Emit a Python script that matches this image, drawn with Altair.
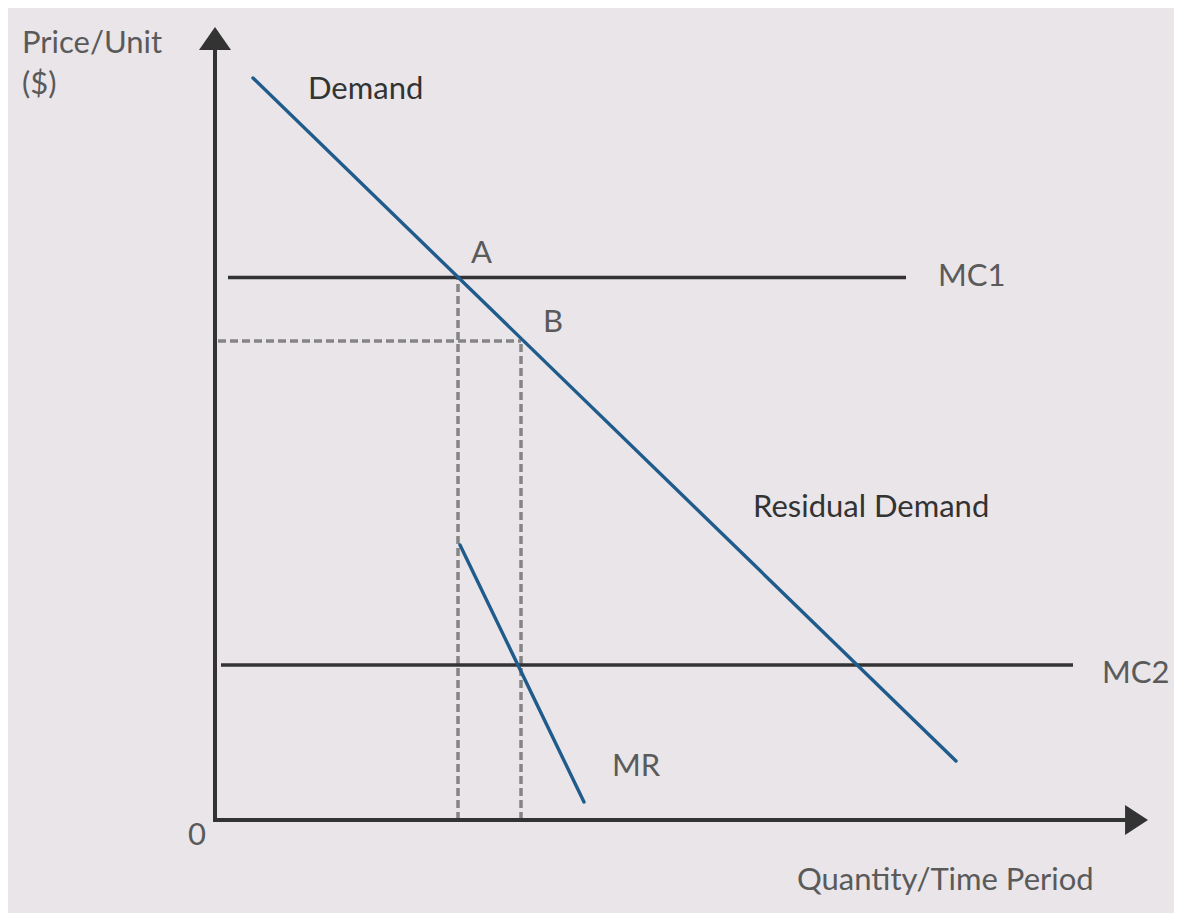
import altair as alt
import pandas as pd

# Economic diagram coordinates (quantity, price) in arbitrary units
# Axes
axis_x1 = [0.0, -0.2]
axis_y1 = [-0.2, 0.0]
axis_x2 = [0.0, 92.0]
axis_y2 = [77.0, 0.0]

# Arrow heads (tips)
arrow_q = [0.0, 93.3]
arrow_p = [79.3, 0.0]
arrow_shape = ["M0,0L1,1.44L-1,1.44Z", "M0,0L-1.53,-1L-1.53,1Z"]

# Blue curves: Demand, MR
blue_names = ["Demand", "MR"]
blue_q1 = [3.8, 24.5]
blue_p1 = [74.2, 27.5]
blue_q2 = [74.1, 36.9]
blue_p2 = [5.9, 1.8]

# Marginal cost lines
mc_names = ["MC1", "MC2"]
mc_q1 = [1.3, 0.6]
mc_q2 = [69.1, 85.8]
mc_p = [54.25, 15.5]

# Dashed guide lines
dash_q1 = [24.3, 30.6, 0.3]
dash_p1 = [0.0, 0.0, 47.9]
dash_q2 = [24.3, 30.6, 30.6]
dash_p2 = [54.25, 47.9, 47.9]

# Labels
dark_labels = ["Demand", "Residual Demand"]
dark_q = [9.3, 53.8]
dark_p = [72.1, 30.3]

gray_labels = ["Price/Unit", "($)", "A", "B", "MC1", "MC2", "MR", "0", "Quantity/Time Period"]
gray_q = [-19.3, -19.3, 25.6, 32.8, 72.3, 88.7, 39.7, -2.7, 58.2]
gray_p = [76.7, 72.6, 55.7, 48.8, 53.4, 13.7, 4.4, -2.5, -7.0]

W, H = 1166, 905
xs = alt.Scale(domain=[-20.7, 95.9], nice=False, zero=False)
ys = alt.Scale(domain=[-9.3, 81.2], nice=False, zero=False)

def X(f):
    return alt.X(f, type="quantitative", scale=xs, axis=None)

def Y(f):
    return alt.Y(f, type="quantitative", scale=ys, axis=None)

axes_df = pd.DataFrame({"x1": axis_x1, "y1": axis_y1, "x2": axis_x2, "y2": axis_y2})
axes = alt.Chart(axes_df).mark_rule(color="#333333", strokeWidth=4).encode(
    x=X("x1"), y=Y("y1"), x2="x2", y2="y2")

arrows_df = pd.DataFrame({"q": arrow_q, "p": arrow_p, "s": arrow_shape})
arrow_layers = []
for i in range(len(arrow_q)):
    arrow_layers.append(
        alt.Chart(arrows_df.iloc[[i]]).mark_point(
            shape=arrow_shape[i], filled=True, size=1024 if i == 0 else 900,
            color="#333333", opacity=1, strokeWidth=0
        ).encode(x=X("q"), y=Y("p"))
    )

dash_df = pd.DataFrame({"x1": dash_q1, "y1": dash_p1, "x2": dash_q2, "y2": dash_p2})
dashes = alt.Chart(dash_df).mark_rule(color="#858585", strokeWidth=3.5, strokeDash=[8, 4]).encode(
    x=X("x1"), y=Y("y1"), x2="x2", y2="y2")

mc_df = pd.DataFrame({"name": mc_names, "x1": mc_q1, "x2": mc_q2, "p": mc_p})
mcs = alt.Chart(mc_df).mark_rule(color="#333333", strokeWidth=3.5).encode(
    x=X("x1"), x2="x2", y=Y("p"))

blue_df = pd.DataFrame({"name": blue_names, "x1": blue_q1, "y1": blue_p1, "x2": blue_q2, "y2": blue_p2})
blues = alt.Chart(blue_df).mark_rule(color="#1f5b8b", strokeWidth=3.4, strokeCap="round").encode(
    x=X("x1"), y=Y("y1"), x2="x2", y2="y2")

dark_df = pd.DataFrame({"t": dark_labels, "q": dark_q, "p": dark_p})
dark_txt = alt.Chart(dark_df).mark_text(
    align="left", baseline="alphabetic", font="Lato", fontSize=31, color="#333333"
).encode(x=X("q"), y=Y("p"), text="t")

gray_df = pd.DataFrame({"t": gray_labels, "q": gray_q, "p": gray_p})
gray_txt = alt.Chart(gray_df).mark_text(
    align="left", baseline="alphabetic", font="Lato", fontSize=31, color="#5a5a5a"
).encode(x=X("q"), y=Y("p"), text="t")

chart = alt.layer(dashes, mcs, axes, *arrow_layers, blues, dark_txt, gray_txt).properties(
    width=W, height=H,
    autosize=alt.AutoSizeParams(type="fit", contains="padding"),
    padding=0,
    background="#e9e5e9",
).configure_view(strokeWidth=0)

chart.save("out.html", embed_options={"renderer": "svg", "actions": False})
